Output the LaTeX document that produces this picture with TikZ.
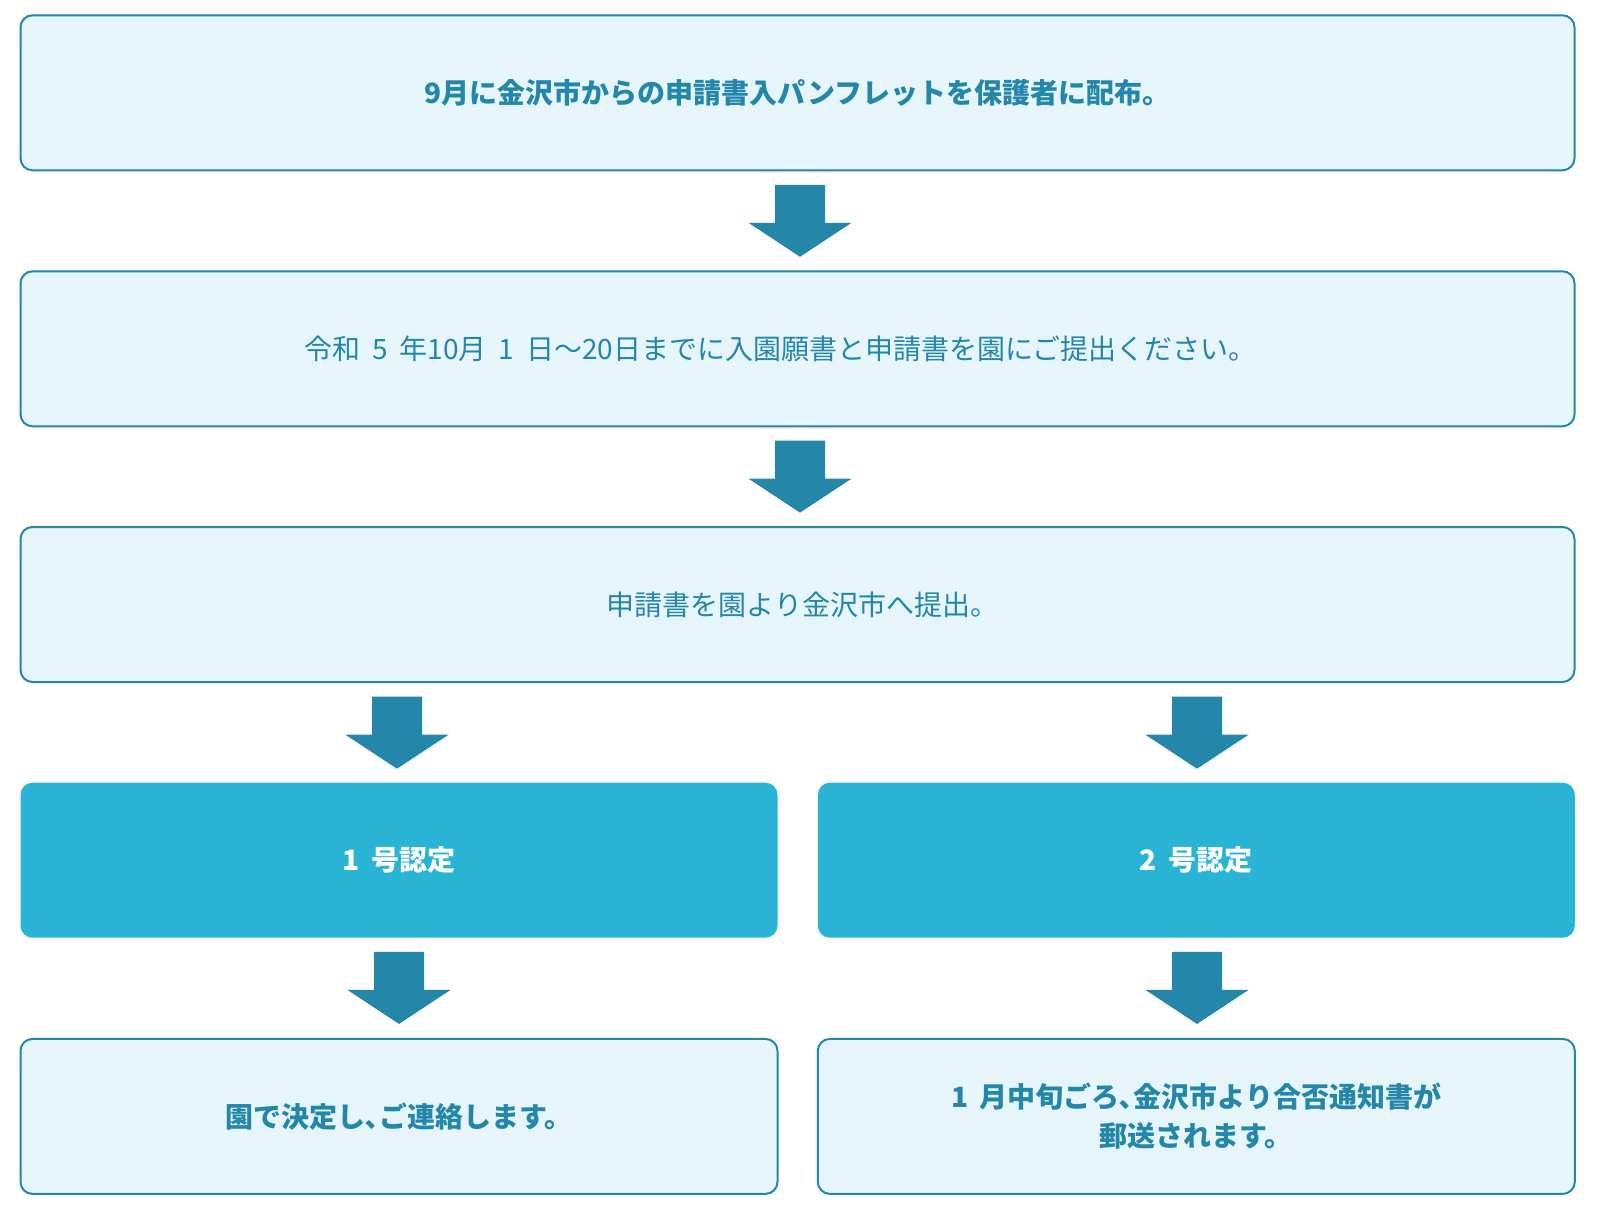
\documentclass[tikz,border=0pt]{standalone}
\usepackage{fontspec}
\setmainfont{Noto Sans CJK JP}
\usetikzlibrary{calc}
\definecolor{edgec}{RGB}{36,135,170}
\definecolor{lightc}{RGB}{229,245,250}
\definecolor{strongc}{RGB}{41,180,214}
\newcommand{\myspc}{\hspace{0.42em}}
\tikzset{
  lightbox/.style={draw=edgec, line width=1.5pt, fill=lightc, rounded corners=9pt,
    text=edgec, align=center, inner sep=0pt,
    font=\fontsize{21}{29.25}\selectfont},
  strongbox/.style={fill=strongc, rounded corners=9pt, text=white, align=center,
    inner sep=0pt, font=\fontsize{21}{29.25}\selectfont\bfseries},
  fullw/.style={minimum width=1554*0.75pt, minimum height=155*0.75pt},
  halfw/.style={minimum width=757*0.75pt, minimum height=155*0.75pt},
  blockarrowc/.style={fill=edgec}
}
% #1 from node, #2 to node, #3 x offset (px)
\newcommand{\blockarr}[3]{%
  \coordinate (tmpm) at ($($(#2.north |- #1.south)!0.5!(#2.north)$)+(#3,0)$);
  \fill[blockarrowc] ($(tmpm)+(-25,-36)$) -- ($(tmpm)+(25,-36)$) -- ($(tmpm)+(25,2)$)
    -- ($(tmpm)+(51.5,2)$) -- ($(tmpm)+(0,36)$) -- ($(tmpm)+(-51.5,2)$)
    -- ($(tmpm)+(-25,2)$) -- cycle;}
\begin{document}
\begin{tikzpicture}[x=0.75pt,y=-0.75pt]
\useasboundingbox[fill=white] (0,0) rectangle (1600,1210);
\node[lightbox,fullw,font=\fontsize{21}{29.25}\selectfont\bfseries] (b1) at (797.5,92.8)
  {9月に金沢市からの申請書入パンフレットを保護者に配布。};
\node[lightbox,fullw] (b2) at (797.5,348.8)
  {令和\myspc{}5\myspc{}年10月\myspc{}1\myspc{}日〜20日までに入園願書と申請書を園にご提出ください。\hspace{1.2em}};
\node[lightbox,fullw] (b3) at (797.5,604.5)
  {\hspace{7.5pt}申請書を園より金沢市へ提出。};
\node[strongbox,halfw] (b4l) at (399,860.2) {1\myspc{}号認定};
\node[strongbox,halfw] (b4r) at (1196.3,860.2) {2\myspc{}号認定};
\node[lightbox,halfw,font=\fontsize{21}{29.25}\selectfont\bfseries] (b5l) at (399,1116.4)
  {園で決定し､ご連絡します。};
\node[lightbox,halfw,font=\fontsize{21}{29.25}\selectfont\bfseries] (b5r) at (1196.3,1116.4)
  {\raisebox{-1.5pt}{\parbox{500pt}{\centering 1\myspc{}月中旬ごろ､金沢市より合否通知書が\\郵送されます。}}};
\blockarr{b1}{b2}{2.5}
\blockarr{b2}{b3}{2.5}
\blockarr{b3}{b4l}{-2}
\blockarr{b3}{b4r}{0.7}
\blockarr{b4l}{b5l}{0}
\blockarr{b4r}{b5r}{0.7}
\end{tikzpicture}
\end{document}
